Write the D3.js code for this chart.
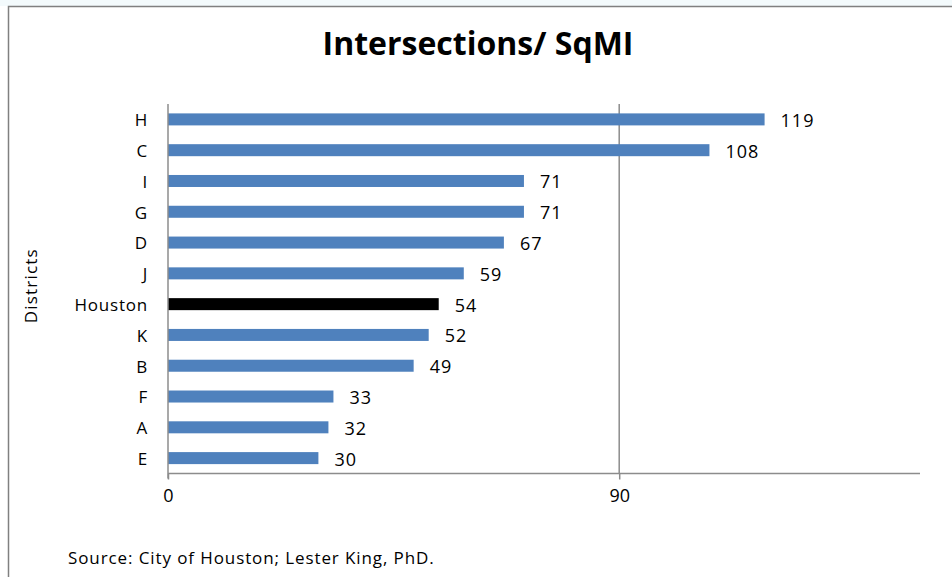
<!DOCTYPE html>
<html><head><meta charset="utf-8">
<script src="https://cdn.jsdelivr.net/npm/d3@7"></script>
<style>body{margin:0;background:#fff}svg{display:block}text{font-family:"Open Sans",sans-serif;fill:#000}</style>
</head><body>
<script>
const categories = ["H","C","I","G","D","J","Houston","K","B","F","A","E"];
const values = [119,108,71,71,67,59,54,52,49,33,32,30];
const highlight = "Houston";
const xTicks = [0,90];
const title = "Intersections/ SqMI";
const yTitle = "Districts";
const source = "Source: City of Houston; Lester King, PhD.";

(function(){
const W=952,H=577;
const svg=d3.select("body").append("svg").attr("width",W).attr("height",H);
svg.append("rect").attr("x",0).attr("y",0).attr("width",W).attr("height",6).attr("fill","#f3fafc");
svg.append("rect").attr("x",8.5).attr("y",6.5).attr("width",W+20).attr("height",H+20).attr("fill","#fff").attr("stroke","#808080").attr("stroke-width",1.5);

const pl=168,pr=920,pt=104,pb=473.5;
const x=d3.scaleLinear().domain([0,150]).range([pl,pr]);
const y=d3.scaleBand().domain(categories).range([pt,pb]).paddingInner(0.61).paddingOuter(0.305);

svg.selectAll(".grid").data(xTicks.filter(d=>d>0)).enter().append("line")
 .attr("x1",d=>x(d)).attr("x2",d=>x(d)).attr("y1",pt).attr("y2",pb).attr("stroke","#8c8c8c").attr("stroke-width",1.5);

const data=categories.map((c,i)=>({c,v:values[i]}));
svg.selectAll(".bar").data(data).enter().append("rect")
 .attr("x",x(0)).attr("y",d=>y(d.c)).attr("width",d=>x(d.v)-x(0)).attr("height",y.bandwidth())
 .attr("fill",d=>d.c===highlight?"#000":"#4f81bd");

svg.selectAll(".vl").data(data).enter().append("text")
 .attr("x",d=>x(d.v)+16).attr("y",d=>y(d.c)+y.bandwidth()/2+1).attr("dy","0.36em")
 .attr("font-size",18).attr("letter-spacing",1).text(d=>d.v);

const xAxis=d3.axisBottom(x).tickValues(xTicks).tickSize(6).tickFormat(d3.format("d"));
const gx=svg.append("g").attr("transform",`translate(0,${pb})`).call(xAxis);
gx.select(".domain").attr("stroke","#8c8c8c").attr("stroke-width",1.5).attr("d",`M${pl},0H${pr}`);
gx.selectAll(".tick line").attr("stroke","#8c8c8c").attr("stroke-width",1.5);
gx.selectAll(".tick text").attr("font-size",18).attr("font-family","Open Sans").attr("fill","#000").attr("y",16).attr("dy","0.71em");

const yAxis=d3.axisLeft(y).tickSize(0).tickPadding(20);
const gy=svg.append("g").attr("transform",`translate(${pl},0)`).call(yAxis);
gy.select(".domain").attr("stroke","#8c8c8c").attr("stroke-width",1.5).attr("d",`M0,${pt}V${pb+5}`);
gy.selectAll(".tick text").attr("font-size",17).attr("letter-spacing",0.8).attr("font-family","Open Sans").attr("fill","#000").attr("dy","0.4em");

svg.append("text").attr("x",478).attr("y",44).attr("dy","0.35em").attr("text-anchor","middle")
 .attr("font-size",32).attr("font-weight","bold").text(title);
svg.append("text").attr("transform",`translate(31,${(pt+pb)/2-3}) rotate(-90)`).attr("dy","0.35em")
 .attr("text-anchor","middle").attr("font-size",17).attr("letter-spacing",1.2).text(yTitle);
svg.append("text").attr("x",68).attr("y",558).attr("dy","0.35em").attr("font-size",17).attr("letter-spacing",0.9).text(source);
})();
</script>
</body></html>
